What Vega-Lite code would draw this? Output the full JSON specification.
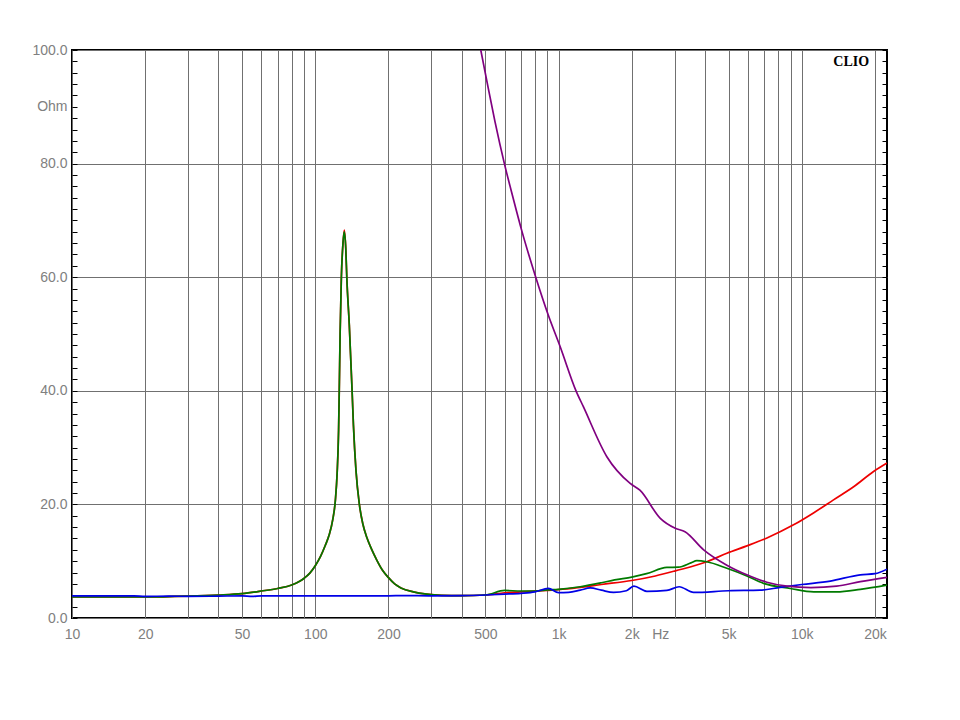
{
  "$schema": "https://vega.github.io/schema/vega-lite/v6.json",
  "width": 815,
  "height": 568,
  "autosize": "none",
  "padding": {"left": 72, "top": 50, "right": 73, "bottom": 102},
  "background": "white",
  "config": {"view": {"stroke": "#000", "strokeWidth": 2}},
  "datasets": {
    "curves": [
      {"s":"r","f":10,"z":3.7},{"s":"r","f":15,"z":3.7},{"s":"r","f":20,"z":3.7},{"s":"r","f":30,"z":3.85},{"s":"r","f":40,"z":4.05},{"s":"r","f":50,"z":4.3},{"s":"r","f":60,"z":4.75},{"s":"r","f":70,"z":5.2},{"s":"r","f":80,"z":5.8},{"s":"r","f":86.6,"z":6.5},{"s":"r","f":90,"z":7.0},{"s":"r","f":95,"z":7.9},{"s":"r","f":100,"z":9.2},{"s":"r","f":105,"z":10.8},{"s":"r","f":110,"z":12.8},{"s":"r","f":114,"z":14.6},{"s":"r","f":118,"z":17.3},{"s":"r","f":121,"z":20.8},{"s":"r","f":123,"z":25.5},{"s":"r","f":124.7,"z":33},{"s":"r","f":125.5,"z":40},{"s":"r","f":126.5,"z":50},{"s":"r","f":128,"z":59.9},{"s":"r","f":130,"z":66},{"s":"r","f":131.7,"z":68.3},{"s":"r","f":133.5,"z":65},{"s":"r","f":134.8,"z":59.9},{"s":"r","f":138,"z":51.6},{"s":"r","f":141.7,"z":40},{"s":"r","f":143.5,"z":34},{"s":"r","f":147,"z":26},{"s":"r","f":151.8,"z":20},{"s":"r","f":157,"z":16.5},{"s":"r","f":162.8,"z":14.2},{"s":"r","f":170,"z":12.2},{"s":"r","f":179,"z":10.2},{"s":"r","f":189,"z":8.4},{"s":"r","f":200,"z":7.1},{"s":"r","f":212,"z":6.0},{"s":"r","f":225,"z":5.3},{"s":"r","f":253,"z":4.6},{"s":"r","f":287,"z":4.2},{"s":"r","f":330,"z":4.0},{"s":"r","f":400,"z":3.95},{"s":"r","f":500,"z":4.05},{"s":"r","f":600,"z":4.45},{"s":"r","f":700,"z":4.6},{"s":"r","f":800,"z":4.75},{"s":"r","f":1000,"z":5.0},{"s":"r","f":1200,"z":5.35},{"s":"r","f":1500,"z":5.9},{"s":"r","f":2000,"z":6.6},{"s":"r","f":2500,"z":7.4},{"s":"r","f":3020,"z":8.3},{"s":"r","f":4070,"z":9.9},{"s":"r","f":4920,"z":11.4},{"s":"r","f":5946,"z":12.7},{"s":"r","f":7190,"z":14.1},{"s":"r","f":9250,"z":16.4},{"s":"r","f":11170,"z":18.5},{"s":"r","f":13500,"z":20.8},{"s":"r","f":16330,"z":23.1},{"s":"r","f":19720,"z":25.8},{"s":"r","f":22400,"z":27.3},
      {"s":"g","f":10,"z":3.7},{"s":"g","f":15,"z":3.7},{"s":"g","f":20,"z":3.7},{"s":"g","f":30,"z":3.85},{"s":"g","f":40,"z":4.05},{"s":"g","f":50,"z":4.3},{"s":"g","f":60,"z":4.75},{"s":"g","f":70,"z":5.2},{"s":"g","f":80,"z":5.8},{"s":"g","f":86.6,"z":6.5},{"s":"g","f":90,"z":7.0},{"s":"g","f":95,"z":7.9},{"s":"g","f":100,"z":9.2},{"s":"g","f":105,"z":10.8},{"s":"g","f":110,"z":12.8},{"s":"g","f":114,"z":14.6},{"s":"g","f":118,"z":17.3},{"s":"g","f":121,"z":20.8},{"s":"g","f":123,"z":25.5},{"s":"g","f":124.7,"z":33},{"s":"g","f":125.5,"z":40},{"s":"g","f":126.5,"z":50},{"s":"g","f":128,"z":59.9},{"s":"g","f":130,"z":66},{"s":"g","f":131.5,"z":68.0},{"s":"g","f":133.5,"z":65},{"s":"g","f":134.8,"z":59.9},{"s":"g","f":138,"z":51.6},{"s":"g","f":141.7,"z":40},{"s":"g","f":143.5,"z":34},{"s":"g","f":147,"z":26},{"s":"g","f":151.8,"z":20},{"s":"g","f":157,"z":16.5},{"s":"g","f":162.8,"z":14.2},{"s":"g","f":170,"z":12.2},{"s":"g","f":179,"z":10.2},{"s":"g","f":189,"z":8.4},{"s":"g","f":200,"z":7.1},{"s":"g","f":212,"z":6.0},{"s":"g","f":225,"z":5.3},{"s":"g","f":253,"z":4.6},{"s":"g","f":287,"z":4.2},{"s":"g","f":330,"z":4.0},{"s":"g","f":400,"z":3.95},{"s":"g","f":500,"z":4.05},{"s":"g","f":600,"z":4.85},{"s":"g","f":700,"z":4.75},{"s":"g","f":800,"z":4.75},{"s":"g","f":900,"z":4.95},{"s":"g","f":1000,"z":5.05},{"s":"g","f":1228,"z":5.5},{"s":"g","f":1500,"z":6.2},{"s":"g","f":1700,"z":6.7},{"s":"g","f":2000,"z":7.2},{"s":"g","f":2300,"z":7.8},{"s":"g","f":2788,"z":8.9},{"s":"g","f":3110,"z":8.95},{"s":"g","f":3500,"z":9.7},{"s":"g","f":3705,"z":10.1},{"s":"g","f":4070,"z":9.9},{"s":"g","f":4920,"z":8.75},{"s":"g","f":5946,"z":7.4},{"s":"g","f":6960,"z":6.1},{"s":"g","f":8960,"z":5.2},{"s":"g","f":11200,"z":4.6},{"s":"g","f":13900,"z":4.6},{"s":"g","f":17400,"z":5.05},{"s":"g","f":22400,"z":5.8},
      {"s":"b","f":10,"z":3.9},{"s":"b","f":18,"z":3.9},{"s":"b","f":20,"z":3.8},{"s":"b","f":25,"z":3.85},{"s":"b","f":30,"z":3.8},{"s":"b","f":40,"z":3.85},{"s":"b","f":50,"z":3.9},{"s":"b","f":55,"z":3.8},{"s":"b","f":60,"z":3.9},{"s":"b","f":100,"z":3.9},{"s":"b","f":200,"z":3.9},{"s":"b","f":230,"z":3.95},{"s":"b","f":300,"z":3.9},{"s":"b","f":400,"z":3.95},{"s":"b","f":500,"z":4.05},{"s":"b","f":600,"z":4.2},{"s":"b","f":700,"z":4.35},{"s":"b","f":800,"z":4.6},{"s":"b","f":908,"z":5.2},{"s":"b","f":1000,"z":4.45},{"s":"b","f":1100,"z":4.5},{"s":"b","f":1228,"z":4.9},{"s":"b","f":1350,"z":5.3},{"s":"b","f":1500,"z":4.9},{"s":"b","f":1683,"z":4.5},{"s":"b","f":1900,"z":4.8},{"s":"b","f":2040,"z":5.6},{"s":"b","f":2308,"z":4.7},{"s":"b","f":2788,"z":4.85},{"s":"b","f":3132,"z":5.5},{"s":"b","f":3590,"z":4.5},{"s":"b","f":5000,"z":4.8},{"s":"b","f":6745,"z":4.9},{"s":"b","f":8147,"z":5.4},{"s":"b","f":10000,"z":5.9},{"s":"b","f":13100,"z":6.5},{"s":"b","f":17400,"z":7.6},{"s":"b","f":20000,"z":7.8},{"s":"b","f":22400,"z":8.6},
      {"s":"p","f":479,"z":100},{"s":"p","f":507,"z":94.6},{"s":"p","f":548,"z":87.4},{"s":"p","f":599,"z":80},{"s":"p","f":651,"z":73.9},{"s":"p","f":706,"z":68.2},{"s":"p","f":806,"z":60},{"s":"p","f":908,"z":53.3},{"s":"p","f":1015,"z":47.8},{"s":"p","f":1180,"z":40},{"s":"p","f":1265,"z":37.2},{"s":"p","f":1580,"z":28.4},{"s":"p","f":1970,"z":23.7},{"s":"p","f":2160,"z":22.5},{"s":"p","f":2620,"z":17.55},{"s":"p","f":3020,"z":15.8},{"s":"p","f":3310,"z":15.2},{"s":"p","f":3950,"z":12.0},{"s":"p","f":4920,"z":9.3},{"s":"p","f":5946,"z":7.6},{"s":"p","f":7180,"z":6.3},{"s":"p","f":8700,"z":5.6},{"s":"p","f":10900,"z":5.35},{"s":"p","f":13900,"z":5.6},{"s":"p","f":17400,"z":6.4},{"s":"p","f":22400,"z":7.15}
    ],
    "brand": [{"f": 15960, "z": 97.9, "t": "CLIO"}]
  },
  "encoding": {
    "x": {
      "field": "f", "type": "quantitative",
      "scale": {"type": "log", "domain": [10, 22400], "nice": false},
      "axis": {
        "title": null,
        "values": [10,20,30,40,50,60,70,80,90,100,200,300,400,500,600,700,800,900,1000,2000,2620,3000,4000,5000,6000,7000,8000,9000,10000,20000],
        "labelExpr": "datum.value == 2620 ? 'Hz' : (indexof([10,20,50,100,200,500], datum.value) >= 0 ? '' + datum.value : (indexof([1000,2000,5000,10000,20000], datum.value) >= 0 ? (datum.value / 1000) + 'k' : ''))",
        "grid": true,
        "gridColor": "#707070",
        "gridWidth": 1,
        "gridOpacity": {"condition": {"test": "datum.value == 2620", "value": 0}, "value": 1},
        "ticks": false,
        "domain": false,
        "labelPadding": 9,
        "labelColor": "#808080",
        "labelFont": "Liberation Sans",
        "labelFontSize": 14,
        "labelOverlap": false,
        "labelBound": false,
        "labelFlush": false
      }
    }
  },
  "layer": [
    {
      "data": {"name": "curves"},
      "mark": {"type": "line", "strokeWidth": 1.7, "clip": true, "interpolate": "monotone"},
      "encoding": {
        "y": {
          "field": "z", "type": "quantitative",
          "scale": {"domain": [0, 100], "nice": false},
          "axis": {
            "title": null,
            "orient": "left",
            "values": [0,2,4,6,8,10,12,14,16,18,20,22,24,26,28,30,32,34,36,38,40,42,44,46,48,50,52,54,56,58,60,62,64,66,68,70,72,74,76,78,80,82,84,86,88,90,92,94,96,98,100],
            "labelExpr": "datum.value == 90 ? 'Ohm' : (datum.value % 20 == 0 ? format(datum.value, '.1f') : '')",
            "grid": true,
            "gridColor": "#707070",
            "gridWidth": 1,
            "gridOpacity": {"condition": {"test": "datum.value % 20 != 0", "value": 0}, "value": 1},
            "ticks": true,
            "tickSize": -5,
            "tickColor": "#000",
            "tickWidth": 1,
            "domain": false,
            "labelPadding": 10,
            "labelColor": "#808080",
            "labelFont": "Liberation Sans",
            "labelFontSize": 14,
            "labelOverlap": false,
            "labelBound": false,
            "labelFlush": false
          }
        },
        "color": {
          "field": "s", "type": "nominal",
          "scale": {"domain": ["r", "g", "b", "p"], "range": ["#ee0000", "#007a00", "#0000e6", "#800080"]},
          "legend": null
        }
      }
    },
    {
      "data": {"name": "brand"},
      "mark": {"type": "text", "font": "Liberation Serif", "fontWeight": "bold", "fontSize": 14, "align": "center", "baseline": "middle", "color": "#000"},
      "encoding": {
        "y": {
          "field": "z", "type": "quantitative",
          "axis": {
            "title": null,
            "orient": "right",
            "values": [0,2,4,6,8,10,12,14,16,18,20,22,24,26,28,30,32,34,36,38,40,42,44,46,48,50,52,54,56,58,60,62,64,66,68,70,72,74,76,78,80,82,84,86,88,90,92,94,96,98,100],
            "labels": false,
            "grid": false,
            "ticks": true,
            "tickSize": -5,
            "tickColor": "#000",
            "tickWidth": 1,
            "domain": false
          }
        },
        "text": {"field": "t"}
      }
    }
  ],
  "resolve": {"axis": {"y": "independent"}, "scale": {"y": "shared", "x": "shared"}}
}
